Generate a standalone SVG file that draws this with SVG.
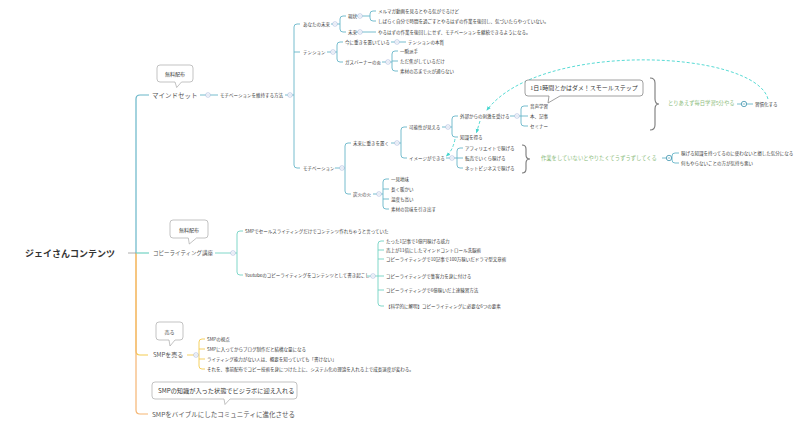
<svg xmlns="http://www.w3.org/2000/svg" width="806" height="432" viewBox="0 0 806 432">
<defs>
<style>
text{font-family:"Noto Sans CJK JP","Noto Sans",sans-serif;dominant-baseline:central;fill:#3a3a3a}
.t1{font-size:9px;font-weight:bold;fill:#333}
.t2{font-size:6px;fill:#555}
.t3{font-size:4.5px}
.tg{font-size:5.3px;fill:#8dbd7d}
.tc{font-size:5px;text-anchor:middle}
.a{fill:none;stroke:#68b6c8;stroke-width:0.9}
.b{fill:none;stroke:#72d3c3;stroke-width:0.9}
.c{fill:none;stroke:#f4cc50;stroke-width:0.9}
.d{fill:none;stroke:#f5b572;stroke-width:0.9}
.trunk{stroke-width:1.2}
.co{fill:#fff;stroke:#9a9a9a;stroke-width:0.6}
.cc{fill:#fff;stroke:#a3b3da;stroke-width:0.6}
.cs{fill:#fff;stroke:#3d93ad;stroke-width:0.8}
.dash{fill:none;stroke:#45d6cf;stroke-width:0.9;stroke-dasharray:3 2}
.br{fill:none;stroke:#7a7a7a;stroke-width:1.1}
</style>
<marker id="ah" viewBox="0 0 10 10" refX="8" refY="5" markerWidth="5" markerHeight="5" orient="auto"><path d="M0,1 L10,5 L0,9 Z" fill="#45d6cf"/></marker>
<g id="cl"><circle r="2.3" class="cc"/><path d="M-1.2 0H1.2" stroke="#a3b3da" stroke-width="0.5"/></g>
<g id="cls"><circle r="2.7" class="cs"/><path d="M-1.3 0H1.3" stroke="#3d93ad" stroke-width="0.6"/></g>
</defs>
<rect width="806" height="432" fill="#fff"/>

<g id="connectors">
<path class="c trunk" d="M136 253V351Q136 355 140 355H148"/>
<path class="d trunk" d="M136 253V410Q136 414 140 414H148"/>
<path class="a trunk" d="M136 253V99Q136 95 140 95H149"/>
<path class="b trunk" d="M136 253H149"/>
<path d="M128 253H136" stroke="#999" stroke-width="0.8"/>
<path class="a" d="M200 95H218M285 95H294M300 24H297Q294 24 294 27V165Q294 168 297 168H300M294 52H300"/>
<path class="a" d="M331 24H340M346 16H343Q340 16 340 19V29Q340 32 343 32H346"/>
<path class="a" d="M356 16H370M376 11H373Q370 11 370 14V18Q370 21 373 21H376M356 32H376"/>
<path class="a" d="M327 52H337M343 42H340Q337 42 337 45V59Q337 62 340 62H343M391 42H406"/>
<path class="a" d="M382 62H392M398 51H395Q392 51 392 54V68Q392 71 395 71H398M392 61H398"/>
<path class="a" d="M335 168H345M351 143H348Q345 143 345 146V191Q345 194 348 194H351"/>
<path class="a" d="M391 143H401M407 127H404Q401 127 401 130V155Q401 158 404 158H407"/>
<path class="a" d="M442 127H452M458 116H455Q452 116 452 119V134Q452 137 455 137H458"/>
<path class="a" d="M510 116H521M528 106H524Q521 106 521 109V123Q521 126 524 126H528M521 116H528"/>
<path class="a" d="M446 158H457M463 148H460Q457 148 457 151V165Q457 168 460 168H463M457 158H463"/>
<path class="a" d="M373 194H383M389 179H386Q383 179 383 182V206Q383 209 386 209H389M383 189H389M383 199H389"/>
<path class="a" d="M737 104H753M662 158H672M679 153H675Q672 153 672 156V160Q672 163 675 163H679"/>
<path class="b" d="M215 253H237M243 231H240Q237 231 237 234V272Q237 275 240 275H243"/>
<path class="b" d="M367 276H378M384 241H381Q378 241 378 244V303Q378 306 381 306H384M378 250H384M378 259H384M378 276H384M378 290H384"/>
<path class="c" d="M187 355H199M205 339H202Q199 339 199 342V366Q199 369 202 369H205M199 349H205M199 359H205"/>
<path class="br" d="M650 78Q655 78 655 83V99Q655 104 659 104Q655 104 655 109V125Q655 130 650 130"/>
<path class="br" d="M522 145Q526 145 526 149V155Q526 159 530 159Q526 159 526 163V169Q526 173 522 173"/>
<path class="dash" d="M768 99C755 50 540 40 487 110" marker-end="url(#ah)"/>
<path class="dash" d="M480 121L476.5 132.5" marker-end="url(#ah)"/>
<path class="dash" d="M455 139Q453 150 446.5 156" marker-end="url(#ah)"/>
<use href="#cl" x="208" y="95"/><use href="#cl" x="290" y="95"/>
<use href="#cl" x="335" y="24"/><use href="#cl" x="360" y="16"/><use href="#cl" x="360" y="32"/>
<use href="#cl" x="333" y="52"/><use href="#cl" x="397" y="42"/><use href="#cl" x="388" y="62"/>
<use href="#cl" x="342" y="168"/><use href="#cl" x="397" y="143"/><use href="#cl" x="448" y="127"/>
<use href="#cl" x="517" y="116"/><use href="#cl" x="452" y="158"/><use href="#cl" x="379" y="194"/>
<use href="#cls" x="744" y="104"/><use href="#cls" x="669" y="158"/>
<use href="#cl" x="233" y="253"/><use href="#cl" x="373" y="276"/><use href="#cl" x="196" y="355"/>
</g>

<g id="node-root"><text class="t1" x="25" y="253">ジェイさんコンテンツ</text></g>

<g id="node-mindset">
<path class="co" d="M160 65H190Q193 65 193 68V79Q193 82 190 82H181.5L176.7 87.5L175 82H160Q157 82 157 79V68Q157 65 160 65Z"/>
<text class="tc" x="175" y="73.5">無料配布</text>
<text class="t2" x="152" y="95" style="font-size:6.5px">マインドセット</text>
</g>
<g id="node-method"><text class="t3" x="220" y="95">モチベーションを維持する方法</text></g>
<g id="node-future"><text class="t3" x="303" y="24">あなたの未来</text></g>
<g id="node-now"><text class="t3" x="348" y="16">現状</text></g>
<g id="node-now-1"><text class="t3" x="378" y="11">メルマガ動画を見るとやる気がでるけど</text></g>
<g id="node-now-2"><text class="t3" x="378" y="21">しばらく自分で時間を過ごすとやるはずの作業を後回し、気づいたらやっていない。</text></g>
<g id="node-mirai"><text class="t3" x="348" y="32">未来</text></g>
<g id="node-mirai-1"><text class="t3" x="378" y="32">やるはずの作業を後回しにせず、モチベーションを継続できるようになる。</text></g>
<g id="node-tension"><text class="t3" x="303" y="52">テンション</text></g>
<g id="node-ima"><text class="t3" x="345" y="42">今に重きを置いている</text></g>
<g id="node-honshitsu"><text class="t3" x="408" y="41.5">テンションの本質</text></g>
<g id="node-gas"><text class="t3" x="345" y="62">ガスバーナーの炎</text></g>
<g id="node-gas-1"><text class="t3" x="400" y="51">一瞬派手</text></g>
<g id="node-gas-2"><text class="t3" x="400" y="61">ただ焦がしているだけ</text></g>
<g id="node-gas-3"><text class="t3" x="400" y="71">素材の芯まで火が通らない</text></g>
<g id="node-motivation"><text class="t3" x="303" y="168">モチベーション</text></g>
<g id="node-miraiomoki"><text class="t3" x="353" y="143">未来に重きを置く</text></g>
<g id="node-kanousei"><text class="t3" x="409" y="127">可能性が見える</text></g>
<g id="node-gaibu"><text class="t3" x="460" y="116">外部からの刺激を受ける</text></g>
<g id="node-onsei"><text class="t3" x="530" y="106">音声学習</text></g>
<g id="node-hon"><text class="t3" x="530" y="116">本、記事</text></g>
<g id="node-seminar"><text class="t3" x="530" y="126">セミナー</text></g>
<g id="node-chishiki"><text class="t3" x="460" y="137">知識を得る</text></g>
<g id="node-image"><text class="t3" x="409" y="158">イメージができる</text></g>
<g id="node-aff"><text class="t3" x="465" y="148">アフィリエイトで稼げる</text></g>
<g id="node-tenbai"><text class="t3" x="465" y="158">転売でいくら稼げる</text></g>
<g id="node-net"><text class="t3" x="465" y="168">ネットビジネスで稼げる</text></g>
<g id="node-sumibi"><text class="t3" x="353" y="194">炭火の火</text></g>
<g id="node-sumibi-1"><text class="t3" x="391" y="179">一見地味</text></g>
<g id="node-sumibi-2"><text class="t3" x="391" y="189">長く暖かい</text></g>
<g id="node-sumibi-3"><text class="t3" x="391" y="199">温度も高い</text></g>
<g id="node-sumibi-4"><text class="t3" x="391" y="209">素材の旨味を引き出す</text></g>
<g id="node-smallstep">
<path class="co" d="M528 80H640Q643 80 643 83V93Q643 96 640 96H560L548 103L549 96H528Q525 96 525 93V83Q525 80 528 80Z" style="stroke:#888;stroke-width:0.8"/>
<text x="584" y="88" style="font-size:6px;text-anchor:middle;font-family:'Liberation Serif','Noto Sans CJK JP',serif;fill:#333">1日1時間とかはダメ！スモールステップ</text>
</g>
<g id="node-mainichi"><text class="tg" x="668" y="103">とりあえず毎日学習5分やる</text></g>
<g id="node-shukan"><text class="t3" x="755" y="104">習慣化する</text></g>
<g id="node-uzuuzu"><text class="tg" x="541" y="158">作業をしていないとやりたくてうずうずしてくる</text></g>
<g id="node-uzu-1"><text class="t3" x="681" y="153">稼げる知識を持ってるのに使わないと損した気分になる</text></g>
<g id="node-uzu-2"><text class="t3" x="681" y="163">何もやらないことの方が気持ち悪い</text></g>

<g id="node-copy">
<path class="co" d="M173 220H205Q208 220 208 223V235Q208 238 205 238H196.5L189.3 244L188.3 238H173Q170 238 170 235V223Q170 220 173 220Z"/>
<text class="tc" x="189" y="229">無料配布</text>
<text class="t2" x="153" y="252.5" style="font-size:5.5px">コピーライティング講座</text>
</g>
<g id="node-copy-1"><text class="t3" x="245" y="231">SMPでセールスライティングだけでコンテンツ作れちゃうと言っていた</text></g>
<g id="node-copy-2"><text class="t3" x="245" y="275">Youtubeのコピーライティングをコンテンツとして書き起こし</text></g>
<g id="node-yt-1"><text class="t3" x="386" y="241">たった1記事で1億円稼げる威力</text></g>
<g id="node-yt-2"><text class="t3" x="386" y="250">売上が11倍にしたマインドコントロール洗脳術</text></g>
<g id="node-yt-3"><text class="t3" x="386" y="259">コピーライティングで10記事で100万稼いだドラマ型文章術</text></g>
<g id="node-yt-4"><text class="t3" x="386" y="276">コピーライティングで集客力を身に付ける</text></g>
<g id="node-yt-5"><text class="t3" x="386" y="290">コピーライティングで6億稼いだ上達練習方法</text></g>
<g id="node-yt-6"><text class="t3" x="386" y="306">【科学的に解明】コピーライティングに必要な6つの要素</text></g>

<g id="node-smp">
<path class="co" d="M159 322H180Q183 322 183 325V337Q183 340 180 340H175L170 346L169 340H159Q156 340 156 337V325Q156 322 159 322Z"/>
<text class="tc" x="169.5" y="331">売る</text>
<text class="t2" x="153" y="354.5">SMPを売る</text>
</g>
<g id="node-smp-1"><text class="t3" x="207" y="339">SMPの視点</text></g>
<g id="node-smp-2"><text class="t3" x="207" y="349">SMPに入ってからブログ制作だと結構な量になる</text></g>
<g id="node-smp-3"><text class="t3" x="207" y="359">ライティング能力がない人は、概要を知っていても「書けない」</text></g>
<g id="node-smp-4"><text class="t3" x="207" y="369">それを、事前配布でコピー技術を身につけた上に、システム化の理論を入れる上で成長速度が変わる。</text></g>

<g id="node-bible">
<path class="co" d="M155 382H294Q297 382 297 385V396Q297 399 294 399H230L225 404.5L224 399H155Q152 399 152 396V385Q152 382 155 382Z"/>
<text x="158" y="390" style="font-size:6.2px;fill:#333">SMPの知識が入った状態でビジラボに迎え入れる</text>
<text class="t2" x="152" y="413.5" style="font-size:6.5px">SMPをバイブルにしたコミュニティに進化させる</text>
</g>
</svg>
